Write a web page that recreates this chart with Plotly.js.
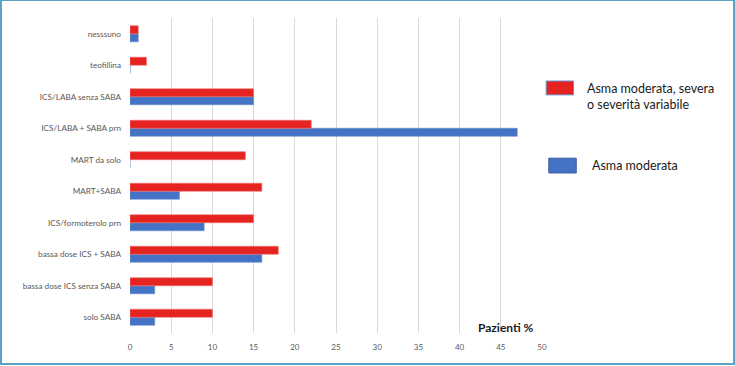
<!DOCTYPE html>
<html>
<head>
<meta charset="utf-8">
<script src="https://cdn.plot.ly/plotly-3.0.1.min.js"></script>
<style>
html,body{margin:0;padding:0;background:#fff;}
#frame{position:absolute;left:0;top:0;width:731px;height:362px;border:2px solid #5ba3c5;border-top-width:1px;border-bottom-width:2px;}
#chart{position:absolute;left:0;top:0;width:735px;height:366px;}
</style>
</head>
<body>
<div id="chart"></div>
<div id="frame"></div>
<script>
// categories listed bottom-to-top
const categories = ["solo SABA", "bassa dose ICS senza SABA", "bassa dose ICS + SABA", "ICS/formoterolo prn", "MART+SABA", "MART da solo", "ICS/LABA + SABA prn", "ICS/LABA senza SABA", "teofillina", "nesssuno"];
const redName = "Asma moderata, severa o severità variabile";
const blueName = "Asma moderata";
const redValues = [10, 10, 18, 15, 16, 14, 22, 15, 2, 1];
const blueValues = [3, 3, 16, 9, 6, 0, 47, 15, 0, 1];
const xTicks = [0, 5, 10, 15, 20, 25, 30, 35, 40, 45, 50];

const traces = [
  {type: "bar", orientation: "h", name: blueName, y: categories, x: blueValues,
   marker: {color: "#4472c4", line: {color: "#6a8fd0", width: 0.6}}, hoverinfo: "x+y"},
  {type: "bar", orientation: "h", name: redName, y: categories, x: redValues,
   marker: {color: "#e52421", line: {color: "#f07070", width: 0.6}}, hoverinfo: "x+y"}
];

const layout = {
  width: 735, height: 366,
  margin: {l: 130, r: 193, t: 18, b: 33, pad: 0},
  paper_bgcolor: "#fff", plot_bgcolor: "#fff",
  barmode: "group", bargap: 0.49, bargroupgap: 0,
  showlegend: false,
  font: {family: "Lato, 'Open Sans', sans-serif", color: "#595959"},
  xaxis: {range: [0, 50], tickvals: xTicks, showgrid: true, gridcolor: "#d9d9d9", gridwidth: 1,
          zeroline: false, showline: false, ticks: "", tickfont: {size: 8, color: "#595959"},
          ticklabelstandoff: 8, fixedrange: true},
  yaxis: {type: "category", showgrid: false, zeroline: false, showline: false, ticks: "",
          tickfont: {size: 8.2, color: "#595959"}, ticklabelstandoff: 8, fixedrange: true},
  shapes: [
    {type: "rect", xref: "paper", yref: "paper", x0: 1.0102, x1: 1.0765, y0: 0.756, y1: 0.8, fillcolor: "#e52421", line: {color: "#6a8fd0", width: 1}},
    {type: "rect", xref: "paper", yref: "paper", x0: 1.0165, x1: 1.0831, y0: 0.508, y1: 0.555, fillcolor: "#4472c4", line: {color: "#3a5e9e", width: 1}}
  ],
  annotations: [
    {xref: "paper", yref: "paper", x: 1.1043, y: 0.752, xanchor: "left", yanchor: "middle", align: "left",
     text: "Asma moderata, severa<br>o severità variabile", showarrow: false,
     font: {size: 12.5, color: "#1a1a1a", family: "Lato, 'Open Sans', sans-serif"}},
    {xref: "paper", yref: "paper", x: 1.116, y: 0.532, xanchor: "left", yanchor: "middle", align: "left",
     text: "Asma moderata", showarrow: false,
     font: {size: 12.5, color: "#1a1a1a", family: "Lato, 'Open Sans', sans-serif"}},
    {xref: "paper", yref: "paper", x: 0.986, y: 0.019, xanchor: "right", yanchor: "middle",
     text: "<b>Pazienti %</b>", showarrow: false,
     font: {size: 12, color: "#1a1a1a", family: "Lato, 'Open Sans', sans-serif"}}
  ]
};

Plotly.newPlot("chart", traces, layout, {displayModeBar: false, staticPlot: true});
</script>
</body>
</html>
